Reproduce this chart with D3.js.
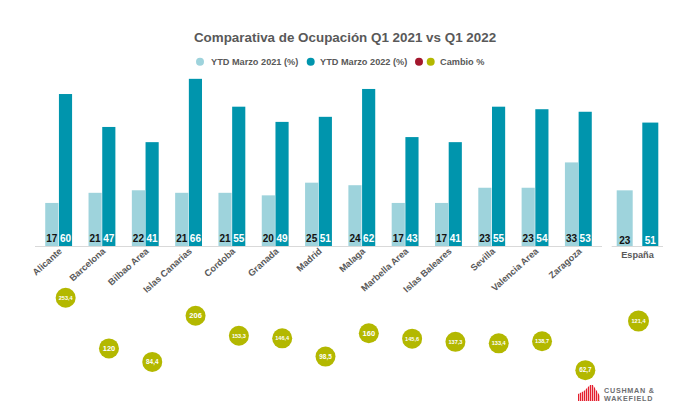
<!DOCTYPE html>
<html><head><meta charset="utf-8">
<script src="https://cdn.jsdelivr.net/npm/d3@7"></script>
<style>body{margin:0;background:#fff}svg{display:block;font-family:"Liberation Sans",Arial,sans-serif}</style>
</head><body><svg id="c" width="700" height="409"></svg>
<script>
const categories = ["Alicante","Barcelona","Bilbao Area","Islas Canarias","Cordoba","Granada","Madrid","Malaga","Marbella Area","Islas Baleares","Sevilla","Valencia Area","Zaragoza"];
const ytd2021 = [17,21,22,21,21,20,25,24,17,17,23,23,33];
const ytd2022 = [60,47,41,66,55,49,51,62,43,41,55,54,53];
const cambio = [253.4,120,84.4,206,153.3,146.4,98.5,160,145.6,137.3,133.4,138.7,62.7];
const totalCategory = "España";
const total2021 = 23, total2022 = 51, totalCambio = 121.4;
const seriesNames = ["YTD Marzo 2021 (%)","YTD Marzo 2022 (%)","Cambio %"];

const C_LIGHT="#9ed3dc", C_DARK="#0095ad", C_BUB="#b3b800", C_RED="#a3172d", TXT="#595959";
const fmt = v => String(v).replace(".", ",");
const svg = d3.select("#c");

// Title
svg.append("text").attr("x",345).attr("y",42).attr("text-anchor","middle")
  .attr("font-size",13.4).attr("font-weight","bold").attr("fill",TXT)
  .text("Comparativa de Ocupación Q1 2021 vs Q1 2022");

// Legend
const leg = svg.append("g").attr("font-size",9.2).attr("font-weight","bold").attr("fill",TXT);
leg.append("circle").attr("cx",200).attr("cy",61.7).attr("r",4).attr("fill",C_LIGHT);
leg.append("text").attr("x",211).attr("y",65).text(seriesNames[0]);
leg.append("circle").attr("cx",310.7).attr("cy",61.7).attr("r",4).attr("fill",C_DARK);
leg.append("text").attr("x",320).attr("y",65).text(seriesNames[1]);
leg.append("circle").attr("cx",419).attr("cy",61.7).attr("r",4).attr("fill",C_RED);
leg.append("circle").attr("cx",430.7).attr("cy",61.7).attr("r",4).attr("fill",C_BUB);
leg.append("text").attr("x",440).attr("y",65).text(seriesNames[2]);

// Main chart scales
const x0 = d3.scaleBand().domain(categories).range([37,600]).paddingInner(0.38).paddingOuter(0.19);
const x1 = d3.scaleBand().domain(["a","b"]).range([0,x0.bandwidth()]).paddingInner(0.04);
const y = d3.scaleLinear().domain([0,70]).range([246,68.7]);

const rows = categories.map((c,i)=>({c, a:ytd2021[i], b:ytd2022[i], ch:cambio[i]}));

const g = svg.append("g");
const grp = g.selectAll("g.cat").data(rows).join("g").attr("class","cat")
  .attr("transform",d=>`translate(${x0(d.c)},0)`);
grp.append("rect").attr("x",x1("a")).attr("width",x1.bandwidth())
  .attr("y",d=>y(d.a)).attr("height",d=>y(0)-y(d.a)).attr("fill",C_LIGHT);
grp.append("rect").attr("x",x1("b")).attr("width",x1.bandwidth())
  .attr("y",d=>y(d.b)).attr("height",d=>y(0)-y(d.b)).attr("fill",C_DARK);
grp.append("text").attr("x",x1("a")+x1.bandwidth()/2).attr("y",242).attr("text-anchor","middle")
  .attr("font-size",10).attr("font-weight","bold").attr("fill","#111").text(d=>d.a);
grp.append("text").attr("x",x1("b")+x1.bandwidth()/2).attr("y",242).attr("text-anchor","middle")
  .attr("font-size",10).attr("font-weight","bold").attr("fill","#fff").text(d=>d.b);

// axis
const ax = svg.append("g").attr("transform","translate(0,246)")
  .call(d3.axisBottom(x0).tickSize(0).tickPadding(0));
ax.select(".domain").attr("stroke","#d9d9d9").attr("d","M35,0.5H602");
ax.selectAll("text").attr("font-size",9.2).attr("font-weight","bold").attr("fill",TXT)
  .attr("font-family","Liberation Sans, Arial, sans-serif")
  .attr("text-anchor","end").attr("dy",null)
  .attr("transform","translate(4,6) rotate(-42)");

// España panel
const xE = d3.scaleBand().domain([totalCategory]).range([616.7,658.3]);
const xE1 = d3.scaleBand().domain(["a","b"]).range([xE(totalCategory), xE(totalCategory)+xE.bandwidth()]).paddingInner(0.375);
const yE = d3.scaleLinear().domain([0,70]).range([246,76.6]);
const eg = svg.append("g");
eg.append("rect").attr("x",xE1("a")).attr("width",xE1.bandwidth()).attr("y",yE(total2021)).attr("height",yE(0)-yE(total2021)).attr("fill",C_LIGHT);
eg.append("rect").attr("x",xE1("b")).attr("width",xE1.bandwidth()).attr("y",yE(total2022)).attr("height",yE(0)-yE(total2022)).attr("fill",C_DARK);
eg.append("text").attr("x",xE1("a")+xE1.bandwidth()/2).attr("y",244).attr("text-anchor","middle").attr("font-size",10).attr("font-weight","bold").attr("fill","#111").text(total2021);
eg.append("text").attr("x",xE1("b")+xE1.bandwidth()/2).attr("y",244).attr("text-anchor","middle").attr("font-size",10).attr("font-weight","bold").attr("fill","#fff").text(total2022);
const axE = svg.append("g").attr("transform","translate(0,246)").call(d3.axisBottom(xE).tickSize(0).tickPadding(5));
axE.select(".domain").attr("stroke","#d9d9d9").attr("d","M611.7,0.5H663");
axE.selectAll("text").attr("font-size",9.2).attr("font-weight","bold").attr("fill",TXT).attr("font-family","Liberation Sans, Arial, sans-serif");

// Bubbles
const yB = d3.scaleLinear().domain([0,300]).range([394,280]);
const yBE = d3.scaleLinear().domain([0,300]).range([393,215]);
const fsz = s => s.length<=3 ? 7.5 : (s.length===4 ? 6.4 : 5.6);
const bub = svg.append("g").selectAll("g").data(rows).join("g")
  .attr("transform",d=>`translate(${x0(d.c)+x0.bandwidth()/2+7},${yB(d.ch)})`);
bub.append("circle").attr("r",10).attr("fill",C_BUB);
bub.append("text").attr("text-anchor","middle").attr("dy","0.35em").attr("fill","#fff")
  .attr("font-weight","bold").attr("font-size",d=>fsz(fmt(d.ch))).text(d=>fmt(d.ch));
const be = svg.append("g").attr("transform",`translate(${xE(totalCategory)+xE.bandwidth()/2+1},${yBE(totalCambio)})`);
be.append("circle").attr("r",10.5).attr("fill",C_BUB);
be.append("text").attr("text-anchor","middle").attr("dy","0.35em").attr("fill","#fff")
  .attr("font-weight","bold").attr("font-size",fsz(fmt(totalCambio))).text(fmt(totalCambio));

// Logo (decorative)
const logo = svg.append("g").attr("transform","translate(578,385)");
const clip = svg.append("defs").append("clipPath").attr("id","lg");
clip.append("path").attr("d","M0,16 L0,9 L6,6 L12,0 L15,0 L22,11 L22,16 Z");
const lb = logo.append("g").attr("clip-path","url(#lg)");
d3.range(0,23,2).forEach(i=>lb.append("rect").attr("x",i).attr("y",0).attr("width",1.3).attr("height",16).attr("fill","#e4202e"));
const lt = logo.append("text").attr("font-size",7.2).attr("font-weight","bold").attr("fill","#6d6e71").attr("letter-spacing",0.75);
lt.append("tspan").attr("x",26).attr("y",7.6).text("CUSHMAN &");
lt.append("tspan").attr("x",26).attr("y",15.6).text("WAKEFIELD");
</script></body></html>
